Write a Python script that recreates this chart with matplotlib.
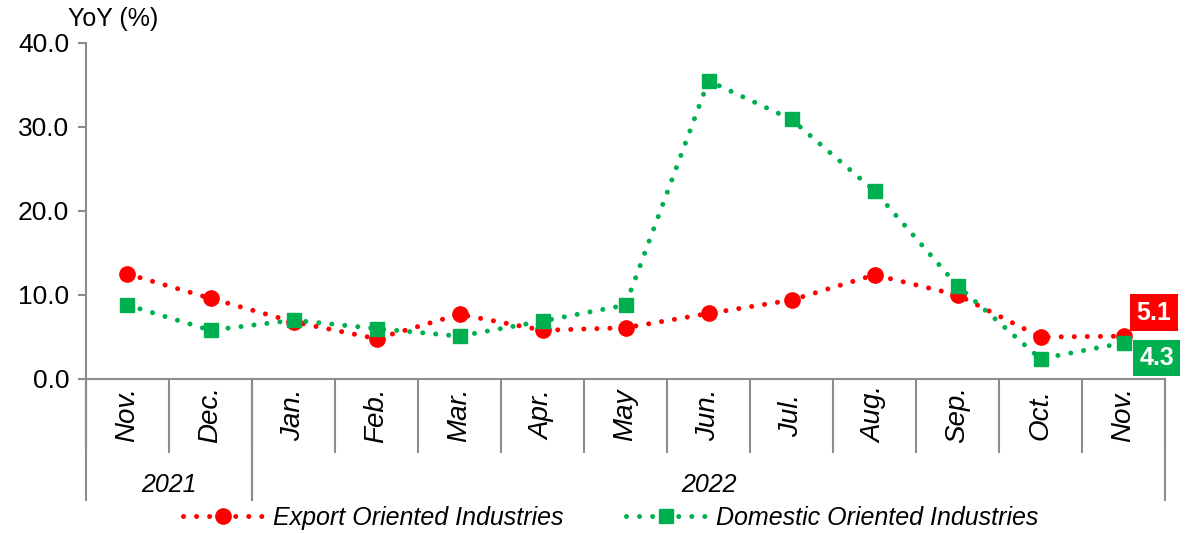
import matplotlib
matplotlib.use("Agg")
import matplotlib.pyplot as plt
from matplotlib.lines import Line2D

plt.rcParams['font.family'] = ['Liberation Sans', 'DejaVu Sans']

months = ['Nov.', 'Dec.', 'Jan.', 'Feb.', 'Mar.', 'Apr.', 'May', 'Jun.',
          'Jul.', 'Aug.', 'Sep.', 'Oct.', 'Nov.']
years = ['2021', '2022']
year_spans = [(0, 2), (2, 13)]   # month index ranges per year
export = [12.5, 9.6, 6.8, 4.8, 7.7, 5.8, 6.1, 7.8, 9.4, 12.4, 10.0, 5.0, 5.1]
domestic = [8.8, 5.8, 7.0, 6.0, 5.1, 6.9, 8.8, 35.5, 30.9, 22.4, 11.1, 2.4, 4.3]
yticks = [0, 10, 20, 30, 40]

RED = '#ff0000'
GREEN = '#00b050'
GREY = '#8c8c8c'
FS = 18

fig = plt.figure(figsize=(11.85, 5.33), dpi=100)
ax = fig.add_axes([86 / 1185, 1 - 379 / 533, (1165 - 86) / 1185, 336 / 533])

x = list(range(len(months)))
dot = (0, (0.01, 2.6))
ax.plot(x, export, color=RED, lw=3.6, ls=dot, dash_capstyle='round',
        marker='o', ms=11, mec=RED, mfc=RED, zorder=3)
ax.plot(x, domestic, color=GREEN, lw=3.6, ls=dot, dash_capstyle='round',
        marker='s', ms=10.5, mec=GREEN, mfc=GREEN, zorder=4)

ax.set_xlim(-0.5, len(months) - 0.5)
ax.set_ylim(0, 40)
ax.set_yticks(yticks)
ax.set_yticklabels(['%.1f' % v for v in yticks], fontsize=FS + 1)
ax.tick_params(axis='y', direction='out', length=6, color=GREY, width=1.5, pad=6)
ax.set_xticks([])
for s in ['top', 'right']:
    ax.spines[s].set_visible(False)
for s in ['left', 'bottom']:
    ax.spines[s].set_color(GREY)
    ax.spines[s].set_linewidth(1.5)

tr = ax.get_xaxis_transform()
# month separators
for i in range(len(months) + 1):
    ax.plot([i - 0.5, i - 0.5], [0, -0.217], transform=tr, color=GREY,
            lw=1.5, clip_on=False)
# year separators
for a, b in year_spans:
    for edge in (a, b):
        ax.plot([edge - 0.5, edge - 0.5], [0, -0.36], transform=tr,
                color=GREY, lw=1.5, clip_on=False)
for i, m in enumerate(months):
    ax.text(i, -0.107, m, transform=tr, rotation=90, ha='center', va='center',
            fontsize=FS + 2, style='italic')
for (a, b), yr in zip(year_spans, years):
    ax.text((a + b - 1) / 2, -0.315, yr, transform=tr, ha='center',
            va='center', fontsize=FS, style='italic')

ax.text(-0.72, 1.07, 'YoY (%)', transform=tr, ha='left', va='center',
        fontsize=FS)

# end labels
ax.annotate('%.1f' % export[-1], xy=(x[-1], export[-1]), xytext=(22, 17),
            textcoords='offset points', ha='center', va='center',
            fontsize=FS, fontweight='bold', color='white',
            bbox=dict(boxstyle='square,pad=0.25', fc=RED, ec='none'),
            annotation_clip=False)
ax.annotate('%.1f' % domestic[-1], xy=(x[-1], domestic[-1]), xytext=(24, -11),
            textcoords='offset points', ha='center', va='center',
            fontsize=FS, fontweight='bold', color='white',
            bbox=dict(boxstyle='square,pad=0.25', fc=GREEN, ec='none'),
            annotation_clip=False)

handles = [
    Line2D([], [], color=RED, lw=3.6, ls=dot, dash_capstyle='round',
           marker='o', ms=11, markevery=[1]),
    Line2D([], [], color=GREEN, lw=3.6, ls=dot, dash_capstyle='round',
           marker='s', ms=10.5, markevery=[1]),
]
for h in handles:
    h.set_xdata([0, 0.5, 1])
    h.set_ydata([0, 0, 0])
fig.legend(handles, ['Export Oriented Industries', 'Domestic Oriented Industries'],
           loc='center', bbox_to_anchor=(0.515, 1 - 518 / 533), ncol=2,
           frameon=False, prop={'size': FS, 'style': 'italic'},
           handlelength=3.2, columnspacing=2.5, handletextpad=0.4)

fig.savefig('out.png', dpi=100)
